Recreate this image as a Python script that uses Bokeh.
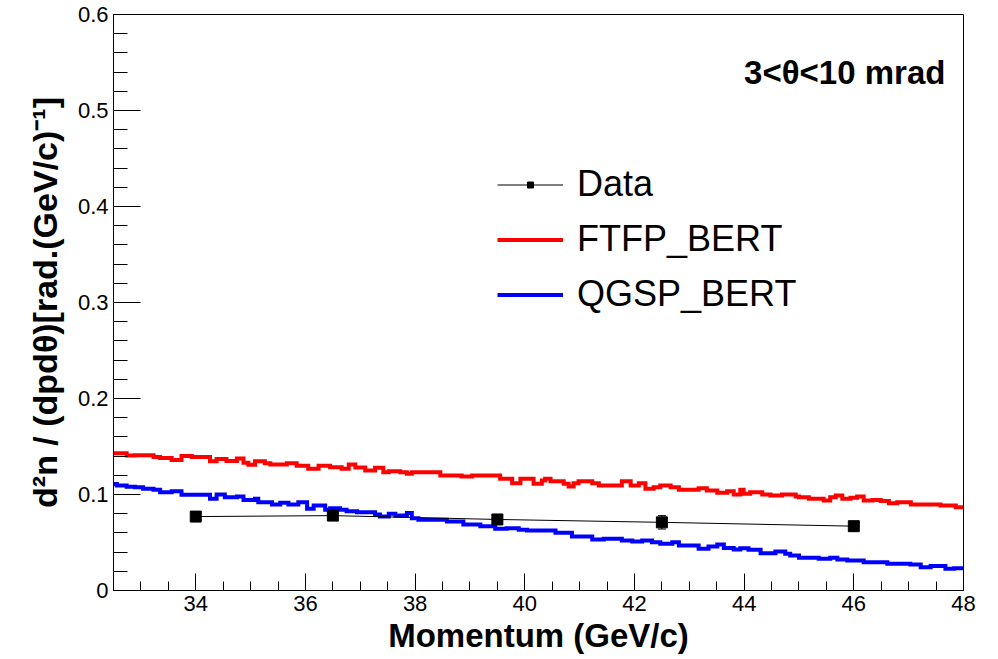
from bokeh.plotting import figure
from bokeh.models import (FixedTicker, SingleIntervalTicker, NumeralTickFormatter, Legend, LegendItem,
                          Label, ColumnDataSource, Whisker, TeeHead, Range1d)
from bokeh.embed import file_html
from bokeh.resources import INLINE

# ---- data ----
data_p = [34.0, 36.5, 39.5, 42.5, 46.0]
data_v = [0.077, 0.078, 0.074, 0.071, 0.067]
data_err = [0.003, 0.003, 0.003, 0.007, 0.005]

ftfp_edges = [32.5, 32.74, 32.89, 33.23, 33.35, 33.56, 33.74, 33.93, 34.26, 34.38, 34.56, 34.75, 34.87, 34.96,
              35.08, 35.26, 35.36, 35.66, 35.84, 36.05, 36.24, 36.45, 36.66, 36.79, 36.91, 37.09, 37.27, 37.42, 37.52,
              37.73, 37.85, 37.94, 38.46, 38.85, 39.04, 39.55, 39.77, 39.92, 40.16, 40.31,
              40.37, 40.47, 40.71, 40.8, 40.89, 40.98, 41.23, 41.35, 41.77, 41.93, 42.08, 42.2, 42.35, 42.47, 42.66, 42.81,
              43.02, 43.17, 43.32, 43.51, 43.69, 43.81, 43.93, 43.99, 44.11, 44.33, 44.48, 44.69, 44.94, 45.0, 45.18, 45.45,
              45.57, 45.67, 45.79, 45.94, 46.06, 46.18, 46.34, 46.49, 46.64, 46.79, 47.04, 47.58, 47.86, 48.0]
ftfp_vals = [0.143, 0.1406, 0.141, 0.139, 0.138, 0.136, 0.140, 0.139, 0.1347, 0.137, 0.135, 0.1375, 0.133, 0.131,
             0.1347, 0.1326, 0.1313, 0.1326, 0.130, 0.1267, 0.130, 0.1285, 0.1267, 0.1313, 0.128, 0.125, 0.1278, 0.1233, 0.1243,
             0.1233, 0.1215, 0.1233, 0.1198, 0.1188, 0.1198, 0.1163, 0.1118, 0.1163, 0.1111, 0.1146,
             0.1163, 0.1139, 0.1111, 0.1083, 0.1118, 0.1139, 0.1118, 0.1094, 0.1139, 0.1094, 0.1118, 0.1059, 0.1076, 0.1094, 0.1076, 0.1050,
             0.1049, 0.1066, 0.1042, 0.1017, 0.1035, 0.1000, 0.1049, 0.1007, 0.1024, 0.1000, 0.0990, 0.1000, 0.0980, 0.0972, 0.0955, 0.0938,
             0.0972, 0.0990, 0.0955, 0.0965, 0.0979, 0.0938, 0.0944, 0.0931, 0.0910, 0.0920, 0.0896, 0.0885, 0.0868]

qgsp_edges = [32.5, 32.56, 32.74, 32.89, 33.04, 33.23, 33.35, 33.56, 33.74, 34.26, 34.38, 34.53, 34.75, 34.87,
              35.08, 35.14, 35.39, 35.54, 35.69, 35.87, 36.03, 36.15, 36.36, 36.45, 36.63, 36.75, 36.94, 37.27, 37.36, 37.52, 37.64,
              37.73, 37.85, 37.94, 38.06, 38.58, 38.88, 39.19, 39.46, 39.67, 39.89, 40.04,
              40.56, 40.86, 41.23, 41.44, 41.77, 41.96, 42.14, 42.32, 42.47, 42.69, 42.81,
              43.17, 43.35, 43.51, 43.63, 43.81, 43.93, 44.08, 44.3, 44.57, 44.75, 44.84, 45.0, 45.36,
              45.57, 45.7, 45.88, 46.18, 46.61, 47.03, 47.22, 47.4, 47.67, 47.83, 48.0]
qgsp_vals = [0.111, 0.1094, 0.108, 0.1076, 0.106, 0.105, 0.1024, 0.1035, 0.0997, 0.0955, 0.1, 0.0972, 0.098, 0.0944,
             0.0955, 0.092, 0.0896, 0.0913, 0.0896, 0.092, 0.0851, 0.0885, 0.084, 0.0858, 0.084, 0.0826, 0.0816, 0.0792, 0.0771, 0.0799, 0.0778,
             0.0781, 0.0806, 0.0753, 0.0736, 0.0719, 0.0688, 0.067, 0.0642, 0.0649, 0.0632, 0.0625,
             0.0601, 0.0563, 0.0531, 0.0538, 0.0521, 0.051, 0.0521, 0.0503, 0.0486, 0.0503, 0.0469,
             0.0434, 0.0458, 0.0479, 0.0444, 0.0427, 0.0441, 0.0424, 0.0389, 0.0406, 0.0382, 0.0365, 0.034, 0.033,
             0.034, 0.0323, 0.0313, 0.0295, 0.0278, 0.0271, 0.0243, 0.0254, 0.0226, 0.0233]

series_names = ["Data", "FTFP_BERT", "QGSP_BERT"]
y_ticks = [0.0, 0.1, 0.2, 0.3, 0.4, 0.5, 0.6]
x_title = "Momentum (GeV/c)"
y_title = "d\u00b2n / (dpd\u03b8)[rad.(GeV/c)\u207b\u00b9]"
cut_label = "3<\u03b8<10 mrad"

FONT = "Liberation Sans"

p = figure(width=998, height=659, x_range=Range1d(32.5, 48), y_range=Range1d(0, 0.6),
           output_backend="svg", toolbar_location=None,
           min_border_left=113, min_border_right=35, min_border_top=14, min_border_bottom=69,
           background_fill_color="white", border_fill_color="white")
p.grid.visible = False
p.outline_line_color = "black"
p.outline_line_width = 1

# histograms (step)
red = p.step(x=ftfp_edges, y=ftfp_vals + [ftfp_vals[-1]], mode="after",
             line_color="#ff0000", line_width=4, line_join="miter")
blue = p.step(x=qgsp_edges, y=qgsp_vals + [qgsp_vals[-1]], mode="after",
              line_color="#0000ff", line_width=4, line_join="miter")

# data
dline = p.line(x=data_p, y=data_v, line_color="black", line_width=1)
err_src = ColumnDataSource(dict(x=data_p,
                                lower=[v - e for v, e in zip(data_v, data_err)],
                                upper=[v + e for v, e in zip(data_v, data_err)]))
p.add_layout(Whisker(base="x", lower="lower", upper="upper", source=err_src, line_color="black",
                     line_width=1,
                     upper_head=TeeHead(size=8, line_color="black", line_width=1),
                     lower_head=TeeHead(size=8, line_color="black", line_width=1)))
dmark = p.scatter(x=data_p, y=data_v, marker="square", size=11, color="black")

legend = Legend(items=[LegendItem(label=series_names[0], renderers=[dline, dmark]),
                       LegendItem(label=series_names[1], renderers=[red]),
                       LegendItem(label=series_names[2], renderers=[blue])],
                location=(384, 275), border_line_color=None, background_fill_alpha=0,
                padding=0, margin=0, glyph_width=66, glyph_height=15, label_height=36,
                label_standoff=14, spacing=13,
                label_text_font=FONT, label_text_font_size="36px", label_text_color="black")
p.add_layout(legend)

p.add_layout(Label(x=47.67, y=0.540, text=cut_label, text_align="right", text_baseline="alphabetic",
                   text_font=FONT, text_font_style="bold", text_font_size="33px", text_color="black"))

# axes
xa = p.xaxis[0]
xa.ticker = SingleIntervalTicker(interval=2, num_minor_ticks=4)
xa.axis_label = x_title
ya = p.yaxis[0]
ya.ticker = FixedTicker(ticks=y_ticks, minor_ticks=[i * 0.02 for i in range(31)])
ya.formatter = NumeralTickFormatter(format="0.[0]")
ya.axis_label = y_title

for ax in (xa, ya):
    ax.axis_line_color = "black"
    ax.major_tick_line_color = "black"
    ax.minor_tick_line_color = "black"
    ax.major_tick_out = 0
    ax.minor_tick_out = 0
    ax.major_label_text_font = FONT
    ax.major_label_text_font_size = "22px"
    ax.major_label_text_color = "black"
    ax.axis_label_text_font = FONT
    ax.axis_label_text_font_style = "bold"
    ax.axis_label_text_color = "black"

xa.axis_label_text_font_size = "33px"
ya.axis_label_text_font_size = "34px"
xa.major_tick_in = 17
xa.minor_tick_in = 9
xa.major_label_standoff = 5
xa.axis_label_standoff = 3
ya.major_tick_in = 27
ya.minor_tick_in = 14
ya.major_label_standoff = 5
ya.axis_label_standoff = 11

open("out.html", "w").write(file_html(p, INLINE))
